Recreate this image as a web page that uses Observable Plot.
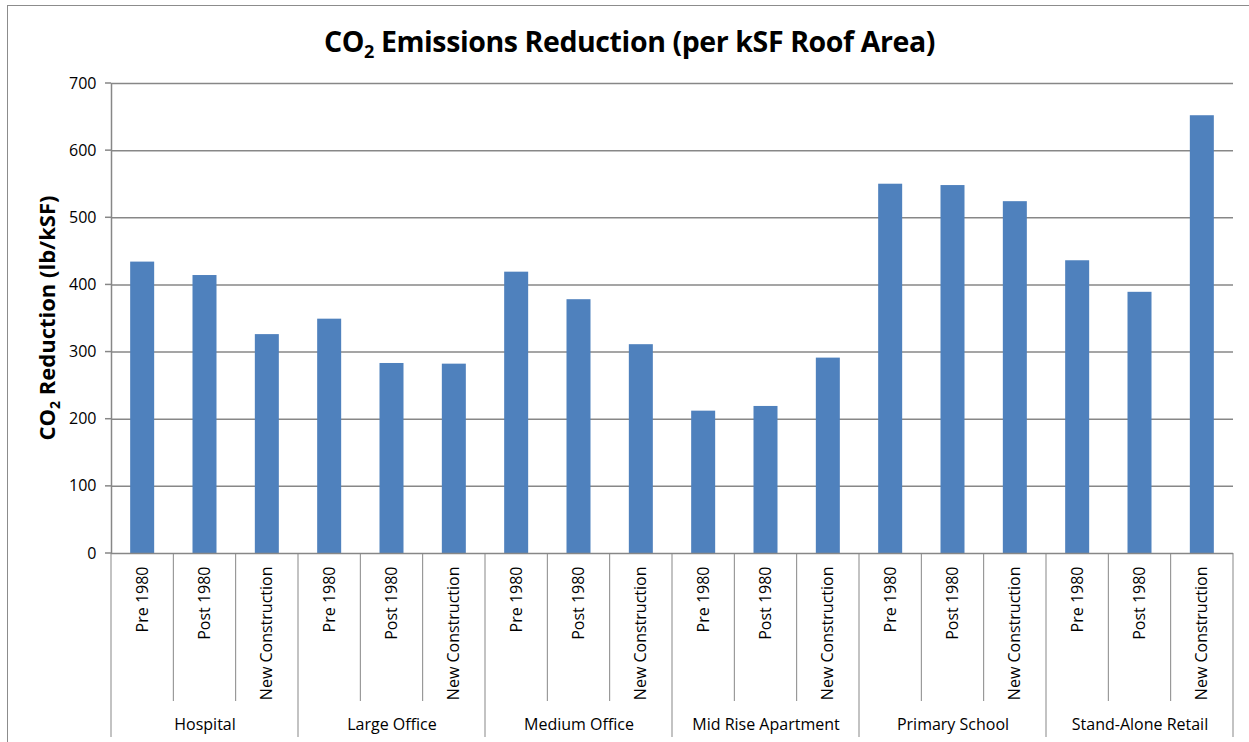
<!DOCTYPE html>
<html>
<head>
<meta charset="utf-8">
<script src="https://cdn.jsdelivr.net/npm/d3@7"></script>
<script src="https://cdn.jsdelivr.net/npm/@observablehq/plot@0.6"></script>
<style>
  html, body { margin: 0; padding: 0; background: #fff; }
  #wrap { position: relative; width: 1249px; height: 742px; overflow: hidden; font-family: "Open Sans", sans-serif; }
  #frame { position: absolute; left: 7px; top: 5px; width: 1260px; height: 760px; border: 1px solid #8c8c8c; box-sizing: border-box; }
  #title { position: absolute; left: 0; width: 1259px; top: 23px; text-align: center; font-weight: bold; font-size: 28.5px; color: #000; letter-spacing: -0.4px; line-height: 36px; }
  #title sub { font-size: 18px; vertical-align: -6px; line-height: 0; }
  #chart { position: absolute; left: 0; top: 0; }
</style>
</head>
<body>
<div id="wrap">
  <div id="frame"></div>
  <div id="chart"></div>
  <div id="title">CO<sub>2</sub> Emissions Reduction (per kSF Roof Area)</div>
</div>
<script>
const groups = ["Hospital", "Large Office", "Medium Office", "Mid Rise Apartment", "Primary School", "Stand-Alone Retail"];
const subs = ["Pre 1980", "Post 1980", "New Construction"];
const hospital = [434, 414, 326];
const largeOffice = [349, 283, 282];
const mediumOffice = [419, 378, 311];
const midRiseApartment = [212, 219, 291];
const primarySchool = [550, 548, 524];
const standAloneRetail = [436, 389, 652];
const yTicks = [0, 100, 200, 300, 400, 500, 600, 700];

const seriesByGroup = [hospital, largeOffice, mediumOffice, midRiseApartment, primarySchool, standAloneRetail];
const data = [];
groups.forEach((g, gi) => {
  subs.forEach((s, si) => {
    data.push({group: g, sub: s, i: gi * subs.length + si, value: seriesByGroup[gi][si]});
  });
});
const nCat = data.length;
const subEdges = d3.range(nCat + 1).filter(k => k % subs.length !== 0);
const groupEdges = d3.range(0, nCat + 1, subs.length);
const groupLabels = groups.map((g, gi) => ({group: g, mid: gi * subs.length + subs.length / 2}));

const W = 1249, H = 742;
const mL = 111, mR = 16, mT = 83, mB = 189;
const bandPx = (W - mL - mR) / nCat;
const barW = 24;
const inset = (bandPx - barW) / 2;

const grid = "#878787";
const font = "'Open Sans', sans-serif";

const plot = Plot.plot({
  width: W,
  height: H,
  marginLeft: mL,
  marginRight: mR,
  marginTop: mT,
  marginBottom: mB,
  style: {fontFamily: font, fontSize: "16px", color: "#000", background: "transparent", overflow: "visible"},
  x: {type: "linear", domain: [0, nCat], axis: null},
  y: {domain: [0, 700], axis: null},
  marks: [
    Plot.ruleY(yTicks.filter(t => t > 0), {y: d => d, x1: 0, x2: nCat, stroke: grid, strokeWidth: 1.5}),
    Plot.rectY(data, {x1: d => d.i, x2: d => d.i + 1, y: "value", fill: "#4F81BD", insetLeft: inset, insetRight: inset}),
    Plot.ruleX([0], {y1: 0, y2: 700, stroke: grid, strokeWidth: 1.5}),
    Plot.text(yTicks, {y: d => d, x: 0, text: d => String(d), textAnchor: "end", dx: -15, fill: "#000", fontSize: 16}),
    Plot.ruleY([0], {x1: 0, x2: nCat, stroke: grid, strokeWidth: 1.5}),
    Plot.text(data, {x: d => d.i + 0.5, y: 0, text: "sub", rotate: -90, textAnchor: "end", dy: 13, fill: "#000", fontSize: 16}),
    Plot.text(groupLabels, {x: "mid", y: 0, text: "group", dy: 171, fill: "#000", fontSize: 16})
  ]
});
document.getElementById("chart").appendChild(plot);

const svg = d3.select(plot);
const xs = plot.scale("x"), ys = plot.scale("y");
const sep = svg.append("g").attr("stroke", grid).attr("fill", "none");
yTicks.forEach(t => {
  sep.append("line").attr("x1", xs.apply(0) - 6).attr("x2", xs.apply(0)).attr("y1", ys.apply(t)).attr("y2", ys.apply(t)).attr("stroke-width", 1.5);
});
subEdges.forEach(e => {
  sep.append("line").attr("x1", xs.apply(e)).attr("x2", xs.apply(e)).attr("y1", ys.apply(0)).attr("y2", ys.apply(0) + 148).attr("stroke-width", 1);
});
groupEdges.forEach(e => {
  sep.append("line").attr("x1", xs.apply(e)).attr("x2", xs.apply(e)).attr("y1", ys.apply(0)).attr("y2", ys.apply(0) + 184).attr("stroke-width", 1);
});
const yl = svg.append("text")
  .attr("transform", `translate(55, ${(ys.apply(0) + ys.apply(700)) / 2}) rotate(-90)`)
  .attr("text-anchor", "middle")
  .attr("font-family", font)
  .attr("font-weight", "bold")
  .attr("font-size", 22)
  .attr("fill", "#000");
yl.append("tspan").text("CO");
yl.append("tspan").text("2").attr("font-size", 14).attr("dy", 5);
yl.append("tspan").text(" Reduction (lb/kSF)").attr("dy", -5);
</script>
</body>
</html>
